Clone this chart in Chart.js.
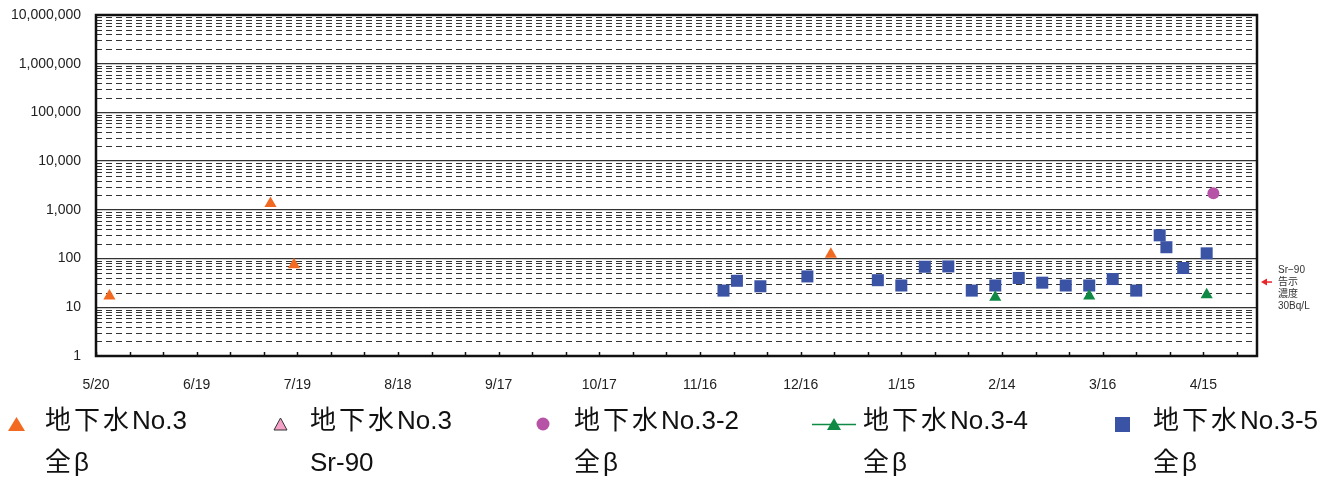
<!DOCTYPE html>
<html>
<head>
<meta charset="utf-8">
<script src="https://cdn.jsdelivr.net/npm/chart.js@4/dist/chart.umd.min.js"></script>
<style>
body { margin: 0; background: #fff; }
#wrap { position: relative; width: 1329px; height: 480px; }
#c { position: absolute; left: 0; top: 0; }
.lg { position: absolute; font-family: 'Liberation Sans', 'Noto Sans CJK JP', sans-serif; font-size: 26px; line-height: 30px; color: #111; white-space: nowrap; }
.lg .cj { letter-spacing: 3px; }
.mk { position: absolute; }
#note { position: absolute; left: 1278px; top: 264px; font-family: 'Liberation Sans', 'Noto Sans CJK JP', sans-serif; font-size: 10px; line-height: 12px; color: #333; }
</style>
</head>
<body>
<div id="wrap">
  <canvas id="c" width="1329" height="480"></canvas>
  <div id="legend"></div>
  <div id="note">Sr−90<br>告示<br>濃度<br>30Bq/L</div>
</div>
<script>
// x axis: days counted from 2013-05-20
var X_TICK_LABELS = ['5/20','6/19','7/19','8/18','9/17','10/17','11/16','12/16','1/15','2/14','3/16','4/15'];
var Y_TICKS = [1, 10, 100, 1000, 10000, 100000, 1000000, 10000000];
var Y_TICK_LABELS = ['1','10','100','1,000','10,000','100,000','1,000,000','10,000,000'];

var NAMES_1 = ['地下水No.3', '地下水No.3', '地下水No.3-2', '地下水No.3-4', '地下水No.3-5'];
var NAMES_2 = ['全β', 'Sr-90', '全β', '全β', '全β'];

var no3Dates = ['2013-05-24', '2013-07-11', '2013-07-18', '2013-12-25'];
var no3Beta  = [17, 1350, 75, 122];

var no3SrDates = [];
var no3Sr      = [];

var no32Dates = ['2014-04-18'];
var no32Beta  = [2200];

var no34Dates = ['2014-02-12', '2014-03-12', '2014-04-16'];
var no34Beta  = [16, 17, 18];

var no35Dates = ['2013-11-23','2013-11-27','2013-12-04','2013-12-18','2014-01-08','2014-01-15','2014-01-22',
                 '2014-01-29','2014-02-05','2014-02-12','2014-02-19','2014-02-26','2014-03-05','2014-03-12',
                 '2014-03-19','2014-03-26','2014-04-02','2014-04-04','2014-04-09','2014-04-16'];
var no35Beta  = [22, 35, 27, 43, 36, 28, 68, 69, 22, 28, 40, 32, 28, 28, 38, 22, 300, 171, 64, 128];

var START = Date.UTC(2013, 4, 20);
function day(s) {
  var p = s.split('-');
  return (Date.UTC(+p[0], +p[1] - 1, +p[2]) - START) / 86400000;
}
function pts(dates, vals) {
  return dates.map(function(d, i) { return { x: day(d), y: vals[i] }; });
}

var frame = {
  id: 'frame',
  beforeDatasetsDraw: function(chart) {
    var ctx = chart.ctx, a = chart.chartArea, ys = chart.scales.y;
    ctx.save();
    ctx.strokeStyle = '#333';
    ctx.lineWidth = 1;
    ctx.setLineDash([6, 4]);
    for (var d = 0; d < 7; d++) {
      for (var m = 2; m < 10; m++) {
        var y = Math.round(ys.getPixelForValue(m * Math.pow(10, d))) + 0.5;
        ctx.beginPath(); ctx.moveTo(a.left, y); ctx.lineTo(a.right, y); ctx.stroke();
      }
    }
    ctx.restore();
  },
  afterDraw: function(chart) {
    var ctx = chart.ctx, a = chart.chartArea, xs = chart.scales.x, ys = chart.scales.y;
    ctx.save();
    ctx.strokeStyle = '#111';
    ctx.lineWidth = 1.5;
    xs.ticks.forEach(function(t) {
      var x = Math.round(xs.getPixelForValue(t.value)) + 0.5;
      ctx.beginPath(); ctx.moveTo(x, a.bottom); ctx.lineTo(x, a.bottom - 4); ctx.stroke();
    });
    ctx.lineWidth = 2.5;
    ctx.strokeRect(a.left, a.top, a.right - a.left, a.bottom - a.top);
    // 30 Bq/L arrow
    var y = ys.getPixelForValue(30) - 2;
    ctx.strokeStyle = '#E8262A';
    ctx.fillStyle = '#E8262A';
    ctx.lineWidth = 1.5;
    ctx.beginPath(); ctx.moveTo(a.right + 9, y); ctx.lineTo(a.right + 15, y); ctx.stroke();
    ctx.beginPath(); ctx.moveTo(a.right + 4, y); ctx.lineTo(a.right + 10, y - 3.5); ctx.lineTo(a.right + 10, y + 3.5); ctx.closePath(); ctx.fill();
    ctx.restore();
  }
};

var datasets = [
  { label: NAMES_1[0] + ' ' + NAMES_2[0], data: pts(no3Dates, no3Beta), pointStyle: 'triangle', pointRadius: 7, backgroundColor: '#F26A21', borderColor: '#F26A21', borderWidth: 0 },
  { label: NAMES_1[1] + ' ' + NAMES_2[1], data: pts(no3SrDates, no3Sr), pointStyle: 'triangle', pointRadius: 7, backgroundColor: '#F5A0C6', borderColor: '#333', borderWidth: 1 },
  { label: NAMES_1[2] + ' ' + NAMES_2[2], data: pts(no32Dates, no32Beta), pointStyle: 'circle', pointRadius: 6, backgroundColor: '#B653A6', borderColor: '#B653A6', borderWidth: 0 },
  { label: NAMES_1[3] + ' ' + NAMES_2[3], data: pts(no34Dates, no34Beta), pointStyle: 'triangle', pointRadius: 7, backgroundColor: '#0E8A45', borderColor: '#0E8A45', borderWidth: 0 },
  { label: NAMES_1[4] + ' ' + NAMES_2[4], data: pts(no35Dates, no35Beta), pointStyle: 'rect', pointRadius: 8.5, backgroundColor: '#3A53A4', borderColor: '#3A53A4', borderWidth: 0 }
];

new Chart(document.getElementById('c').getContext('2d'), {
  type: 'scatter',
  data: { datasets: datasets },
  options: {
    responsive: false,
    animation: false,
    layout: { padding: { left: 0, right: 72, top: 15, bottom: 0 } },
    plugins: { legend: { display: false }, tooltip: { enabled: false } },
    scales: {
      x: {
        type: 'linear',
        min: 0,
        max: 346,
        afterBuildTicks: function(s) {
          var t = [];
          for (var v = 0; v <= 340; v += 10) t.push({ value: v });
          s.ticks = t;
        },
        afterFit: function(s) { s.height = 124; s.paddingLeft = 0; s.paddingRight = 0; },
        grid: { display: false },
        border: { display: false },
        ticks: {
          autoSkip: false, maxRotation: 0, minRotation: 0, padding: 13,
          color: '#222', font: { family: 'Liberation Sans', size: 14 },
          callback: function(v) { return v % 30 === 0 ? X_TICK_LABELS[v / 30] : ''; }
        }
      },
      y: {
        type: 'logarithmic',
        min: 1,
        max: 10000000,
        afterBuildTicks: function(s) {
          s.ticks = Y_TICKS.map(function(v) { return { value: v }; });
        },
        afterFit: function(s) { s.width = 96; s.paddingTop = 0; s.paddingBottom = 0; },
        grid: { color: '#333', lineWidth: 1.3, drawTicks: false },
        border: { display: false },
        ticks: {
          autoSkip: false, padding: 15,
          color: '#222', font: { family: 'Liberation Sans', size: 14 },
          callback: function(v, i) { return Y_TICK_LABELS[i]; }
        }
      }
    }
  },
  plugins: [frame]
});

// legend below the chart
var MARKERS = [
  '<svg width="17" height="14"><polygon points="8.5,0 17,14 0,14" fill="#F26A21"/></svg>',
  '<svg width="15" height="14"><polygon points="7.5,1 14,13 1,13" fill="#F5A0C6" stroke="#333" stroke-width="1"/></svg>',
  '<svg width="14" height="14"><circle cx="7" cy="7" r="6.5" fill="#B653A6"/></svg>',
  '<svg width="44" height="14"><line x1="0" y1="7.5" x2="44" y2="7.5" stroke="#0E8A45" stroke-width="1.5"/><polygon points="22,1 29,13 15,13" fill="#0E8A45"/></svg>',
  '<svg width="15" height="15"><rect x="0" y="0" width="15" height="15" fill="#3A53A4"/></svg>'
];
var markerLeft = [8, 273, 536, 812, 1115];
var textLeft = [45, 310, 574, 863, 1153];
function cjk(s) { return s.replace(/([\u3000-\u9fff]+)/g, '<span class="cj">$1</span>'); }
var html = '';
datasets.forEach(function(ds, i) {
  html += '<div class="mk" style="left:' + markerLeft[i] + 'px;top:417px">' + MARKERS[i] + '</div>';
  html += '<div class="lg" style="left:' + textLeft[i] + 'px;top:405px">' + cjk(NAMES_1[i]) + '</div>';
  html += '<div class="lg" style="left:' + textLeft[i] + 'px;top:447px">' + cjk(NAMES_2[i]) + '</div>';
});
document.getElementById('legend').innerHTML = html;
</script>
</body>
</html>
